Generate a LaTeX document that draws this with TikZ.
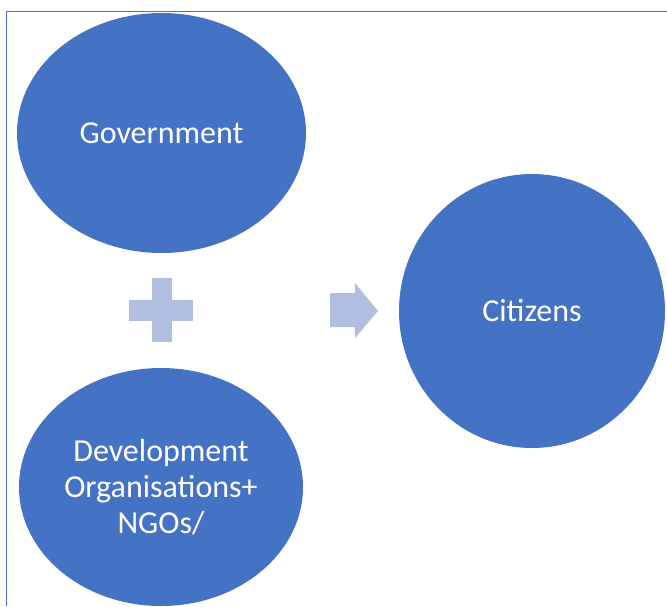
\documentclass[tikz,border=0pt]{standalone}
\usepackage{fontspec}
\setmainfont{Carlito}
\usetikzlibrary{shapes.geometric}
\definecolor{accent}{HTML}{4472C4}
\definecolor{accentlight}{HTML}{B2BEE0}
\begin{document}
\begin{tikzpicture}[x=1pt,y=-1pt,
  bubble/.style={ellipse, fill=accent, draw=none, inner sep=0pt,
    text=white, align=center, font=\fontsize{32}{36}\selectfont},
  frameline/.style={draw=accent, line width=1.4pt},
  sign/.style={fill=accentlight, draw=none}]
\useasboundingbox (0,0) rectangle (667,606);
% frame edges
\coordinate (ftl) at (6.5,11.5);
\coordinate (ftr) at (667,11.5);
\coordinate (fbl) at (6.5,606);
\draw[frameline] (ftr) -- (ftl) -- (fbl);
% partners and recipients
\node[bubble, minimum width=289pt, minimum height=240pt] (gov) at (161.5,133) {Government};
\node[bubble, minimum width=284pt, minimum height=238pt] (dev) at (161,487) {Development\\Organisations+\\NGOs/};
\node[bubble, minimum width=266pt, minimum height=274pt] (cit) at (532,311) {Citizens};
% plus sign
\fill[sign] (152,278) rectangle (172,342);
\fill[sign] (129,300) rectangle (193,321);
% arrow towards the citizens
\fill[sign] (330,293) -- (355,293) -- (355,283) -- (378,311) -- (355,338) -- (355,327) -- (330,327) -- cycle;
\end{tikzpicture}
\end{document}
